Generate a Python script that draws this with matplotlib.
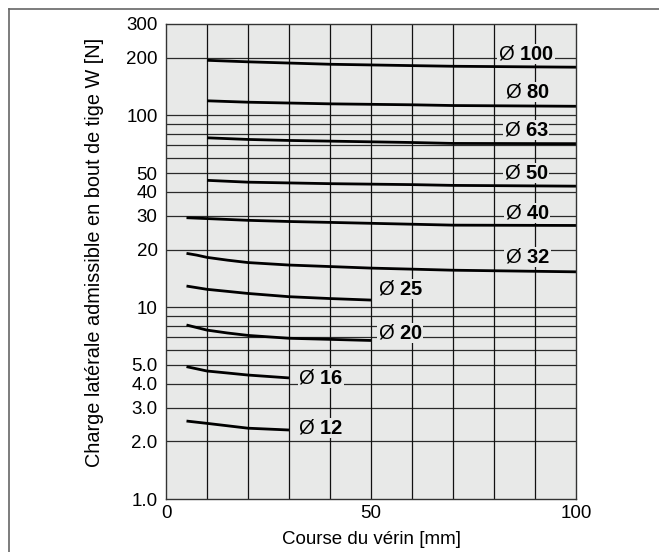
import matplotlib
matplotlib.use("Agg")
import matplotlib.pyplot as plt
from matplotlib.lines import Line2D

plt.rcParams['font.family'] = ['Liberation Sans', 'DejaVu Sans']
plt.rcParams['mathtext.fontset'] = 'custom'
plt.rcParams['mathtext.rm'] = 'Liberation Sans'
plt.rcParams['mathtext.bf'] = 'Liberation Sans:bold'

# ---- data ----
diameters = ["100", "80", "63", "50", "40", "32", "25", "20", "16", "12"]

stroke_100 = [10, 20, 40, 60, 70, 100]
load_100 = [194, 190.5, 185, 182, 180.6, 178.6]
stroke_80 = [10, 20, 40, 60, 70, 100]
load_80 = [119.3, 117.3, 115, 113.7, 112.7, 111.7]
stroke_63 = [10, 20, 30, 40, 60, 70, 100]
load_63 = [76.5, 75, 74.1, 73.5, 72.3, 71.5, 71.3]
stroke_50 = [10, 20, 40, 60, 70, 100]
load_50 = [45.9, 44.9, 44.1, 43.6, 43.2, 42.8]
stroke_40 = [5, 10, 20, 30, 40, 60, 70, 100]
load_40 = [29.3, 29.0, 28.4, 28.0, 27.7, 27.1, 26.8, 26.7]
stroke_32 = [5, 7.5, 10, 15, 20, 30, 40, 50, 60, 70, 100]
load_32 = [19.1, 18.7, 18.2, 17.6, 17.1, 16.6, 16.3, 16.0, 15.8, 15.6, 15.3]
stroke_25 = [5, 10, 15, 20, 30, 40, 50]
load_25 = [12.9, 12.4, 12.1, 11.8, 11.35, 11.1, 10.9]
stroke_20 = [5, 10, 15, 20, 30, 40, 50]
load_20 = [8.08, 7.6, 7.34, 7.13, 6.89, 6.8, 6.71]
stroke_16 = [5, 10, 15, 20, 30]
load_16 = [4.9, 4.65, 4.54, 4.43, 4.28]
stroke_12 = [5, 10, 20, 30]
load_12 = [2.55, 2.48, 2.34, 2.29]

label_x = [81, 82.7, 82.4, 82.4, 82.7, 82.7, 51.6, 51.6, 32.3, 32.3]
label_y = [209, 133, 84, 49.9, 31.1, 18.3, 12.5, 7.31, 4.26, 2.34]

y_ticks = [1, 2, 3, 4, 5, 10, 20, 30, 40, 50, 100, 200, 300]
y_ticklabels = ["1.0", "2.0", "3.0", "4.0", "5.0", "10", "20", "30", "40", "50", "100", "200", "300"]
x_ticks = [0, 50, 100]
h_grid = [2, 3, 4, 5, 6, 7, 8, 9, 10, 20, 30, 40, 50, 60, 70, 80, 90, 100, 200]
v_grid = [10, 20, 30, 40, 50, 60, 70, 80, 90]

curves = [(stroke_100, load_100), (stroke_80, load_80), (stroke_63, load_63),
          (stroke_50, load_50), (stroke_40, load_40), (stroke_32, load_32),
          (stroke_25, load_25), (stroke_20, load_20), (stroke_16, load_16),
          (stroke_12, load_12)]

W, H = 659, 552
fig = plt.figure(figsize=(W / 100, H / 100), dpi=100)
fig.patch.set_facecolor('white')
ax = fig.add_axes([166 / W, 1 - 499 / H, (576 - 166) / W, (499 - 24) / H])
bg = '#e8e9e8'
ax.set_facecolor(bg)
ax.set_yscale('log')
ax.set_xlim(0, 100)
ax.set_ylim(1, 300)

for g in h_grid:
    ax.axhline(g, color='#2a2a2a', lw=0.9, zorder=1)
for g in v_grid:
    ax.axvline(g, color='#111111', lw=0.9, zorder=1)

for xs, ys in curves:
    ax.plot(xs, ys, color='black', lw=2.0, solid_capstyle='butt',
            solid_joinstyle='round', zorder=3)

for d, lx, ly in zip(diameters, label_x, label_y):
    ax.text(lx, ly, "Ø $\\mathbf{" + d + "}$", fontsize=14.5, ha='left', va='center',
            zorder=4, bbox=dict(facecolor=bg, edgecolor='none', pad=0.5))

ax.yaxis.set_minor_locator(matplotlib.ticker.NullLocator())
ax.set_yticks(y_ticks)
ax.set_yticklabels(y_ticklabels, fontsize=13.5)
ax.set_xticks(x_ticks)
ax.set_xticklabels([str(v) for v in x_ticks], fontsize=13.5)
ax.tick_params(axis='both', length=0, pad=4)
ax.tick_params(axis='y', pad=6)
for s in ax.spines.values():
    s.set_color('#333333')
    s.set_linewidth(1.0)
    s.set_zorder(5)

fig.text(95 / W, 1 - 252 / H, "Charge latérale admissible en bout de tige W [N]",
         rotation=90, ha='center', va='center', fontsize=14.3)
fig.text(371 / W, 1 - 540 / H, "Course du vérin [mm]", ha='center', va='center', fontsize=13.5)

fig.add_artist(Line2D([9 / W, 9 / W], [0, 1 - 9 / H], transform=fig.transFigure,
                      color='#666666', lw=1.2))
fig.add_artist(Line2D([9 / W, 1], [1 - 9 / H, 1 - 9 / H], transform=fig.transFigure,
                      color='#666666', lw=1.2))

fig.savefig("out.png", dpi=100, facecolor='white')
